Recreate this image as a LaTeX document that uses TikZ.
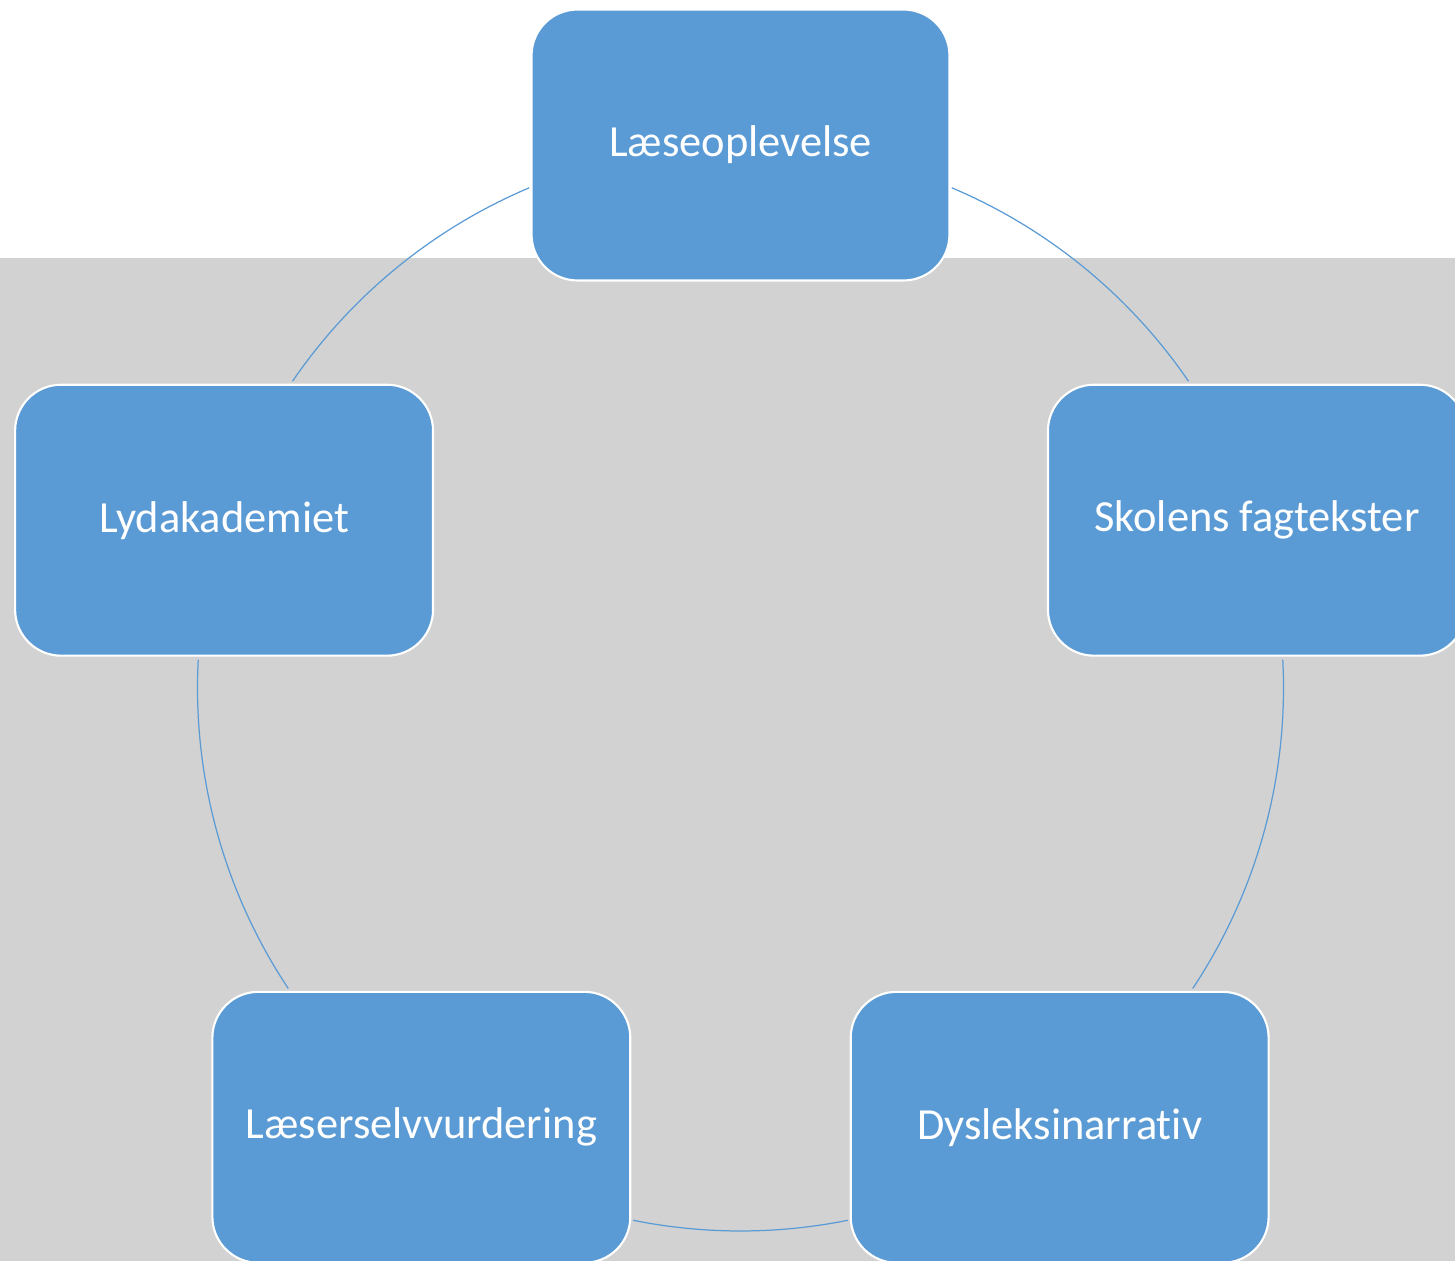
\documentclass[tikz,border=0pt]{standalone}
\usepackage{fontspec}
\setmainfont{Carlito}[Ligatures=CommonOff]
\usetikzlibrary{calc}
\definecolor{cycleblue}{HTML}{5B9BD5}
\definecolor{backgray}{HTML}{D2D2D2}
\tikzset{stagebox/.style={rectangle, rounded corners=0.92cm, draw=white, line width=1.2pt,
    fill=cycleblue, text=white, minimum width=8.36cm, minimum height=5.42cm,
    font=\fontsize{25.3}{30}\selectfont}}

\begin{document}
\begin{tikzpicture}[x=0.02cm, y=0.02cm, link/.style={draw=cycleblue, line width=0.7pt}]
    \useasboundingbox (0,0) rectangle (1455,-1261);
    \fill[backgray] (0,-258) rectangle (1455,-1261);
    \coordinate (c) at (740.5,-688);
    \def\R{543}
    % arcs first, the boxes go on top of them
    \foreach \a/\b in {112.9/145.6, 177.0/213.6, 258.6/281.4, 326.4/363.0, 34.4/67.1}
        \draw[link] ([shift={(\a:\R)}]c) arc[start angle=\a, end angle=\b, radius=\R];
    \foreach \name/\ang/\txt in {oplevelse/90/Læseoplevelse, lydakademi/162/Lydakademiet,
            selvvurdering/234/Læserselvvurdering, narrativ/306/Dysleksinarrativ,
            fagtekster/18/Skolens fagtekster}
        \node[stagebox] (\name) at ($(c)+(\ang:\R)$) {\txt};
\end{tikzpicture}
\end{document}
